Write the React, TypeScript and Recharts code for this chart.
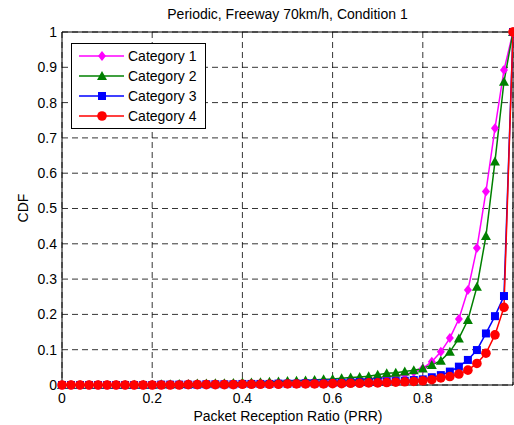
import {
  LineChart,
  Line,
  XAxis,
  YAxis,
  CartesianGrid,
  Legend,
  ReferenceLine,
} from 'recharts';

// PRR sample points, 0 to 1 in steps of 0.02
const prr = Array.from({ length: 51 }, (_, i) => Math.round(i * 2) / 100);

const cat1 = [
  0, 0, 0, 0, 0, 0, 0, 0, 0, 0, 0.001,
  0.001, 0.001, 0.001, 0.002, 0.002, 0.002, 0.002, 0.003, 0.003, 0.003,
  0.004, 0.004, 0.005, 0.005, 0.006, 0.007, 0.008, 0.009, 0.01, 0.011,
  0.012, 0.014, 0.016, 0.018, 0.02, 0.023, 0.026, 0.03, 0.036, 0.047,
  0.066, 0.094, 0.133, 0.187, 0.269, 0.388, 0.548, 0.727, 0.892, 1.0,
];
const cat2 = [
  0, 0, 0, 0, 0, 0, 0, 0, 0.001, 0.001, 0.001,
  0.002, 0.002, 0.003, 0.003, 0.004, 0.004, 0.005, 0.005, 0.006, 0.007,
  0.007, 0.008, 0.009, 0.01, 0.011, 0.012, 0.013, 0.014, 0.016, 0.017,
  0.019, 0.021, 0.023, 0.025, 0.029, 0.033, 0.035, 0.038, 0.042, 0.047,
  0.057, 0.069, 0.094, 0.132, 0.184, 0.278, 0.422, 0.633, 0.859, 1.0,
];
const cat3 = [
  0, 0, 0, 0, 0, 0, 0, 0, 0, 0, 0,
  0.001, 0.001, 0.001, 0.001, 0.001, 0.002, 0.002, 0.002, 0.002, 0.003,
  0.003, 0.003, 0.003, 0.004, 0.004, 0.004, 0.005, 0.005, 0.005, 0.006,
  0.006, 0.007, 0.008, 0.008, 0.009, 0.01, 0.011, 0.012, 0.014, 0.016,
  0.022, 0.028, 0.038, 0.052, 0.071, 0.099, 0.146, 0.195, 0.252, 1.0,
];
const cat4 = [
  0, 0, 0, 0, 0, 0, 0, 0, 0, 0, 0,
  0, 0, 0, 0.001, 0.001, 0.001, 0.001, 0.001, 0.001, 0.002,
  0.002, 0.002, 0.002, 0.002, 0.003, 0.003, 0.003, 0.003, 0.003, 0.004,
  0.004, 0.005, 0.005, 0.006, 0.006, 0.007, 0.008, 0.009, 0.01, 0.012,
  0.015, 0.02, 0.024, 0.031, 0.042, 0.061, 0.09, 0.142, 0.22, 1.0,
];

const xTicks = [0, 0.2, 0.4, 0.6, 0.8, 1];
const yTicks = [0, 0.1, 0.2, 0.3, 0.4, 0.5, 0.6, 0.7, 0.8, 0.9, 1];

const data = prr.map((x, i) => ({ x, c1: cat1[i], c2: cat2[i], c3: cat3[i], c4: cat4[i] }));

const FONT = '"Liberation Sans", Arial, sans-serif';

type Shape = 'diamond' | 'triangle' | 'square' | 'circle';

const series: { key: string; name: string; color: string; shape: Shape }[] = [
  { key: 'c1', name: 'Category 1', color: '#ff00ff', shape: 'diamond' },
  { key: 'c2', name: 'Category 2', color: '#008000', shape: 'triangle' },
  { key: 'c3', name: 'Category 3', color: '#0000ff', shape: 'square' },
  { key: 'c4', name: 'Category 4', color: '#ff0000', shape: 'circle' },
];

function marker(shape: Shape, cx: number, cy: number, color: string, key?: string) {
  if (shape === 'diamond')
    return (
      <polygon key={key} points={`${cx},${cy - 5} ${cx + 4},${cy} ${cx},${cy + 5} ${cx - 4},${cy}`} fill={color} />
    );
  if (shape === 'triangle')
    return (
      <polygon key={key} points={`${cx},${cy - 5} ${cx + 5},${cy + 4} ${cx - 5},${cy + 4}`} fill={color} />
    );
  if (shape === 'square') return <rect key={key} x={cx - 4} y={cy - 4} width={8} height={8} fill={color} />;
  return <circle key={key} cx={cx} cy={cy} r={4.8} fill={color} />;
}

function makeDot(shape: Shape, color: string) {
  return (p: any) => {
    if (p.cx == null || p.cy == null) return <g key={`n-${p.index}`} />;
    return marker(shape, p.cx, p.cy, color, `${shape}-${p.index}`);
  };
}

function LegendBox() {
  return (
    <div
      style={{
        border: '1px solid #000',
        background: '#fff',
        width: 133,
        padding: '2px 0',
        fontFamily: FONT,
        fontSize: 14,
        textAlign: 'left',
      }}
    >
      {series.map((s) => (
        <div key={s.key} style={{ display: 'flex', alignItems: 'center', height: 20 }}>
          <svg width={56} height={20} style={{ flex: 'none' }}>
            <line x1={7} y1={10} x2={52} y2={10} stroke={s.color} strokeWidth={1.5} />
            {marker(s.shape, 30, 10, s.color)}
          </svg>
          <span style={{ color: '#000' }}>{s.name}</span>
        </div>
      ))}
    </div>
  );
}

export default function App() {
  return (
    <div style={{ position: 'absolute', left: 0, top: 0, width: 514, height: 425, background: '#fff' }}>
      <div
        style={{
          position: 'absolute',
          left: 62,
          width: 451,
          top: 5,
          textAlign: 'center',
          fontFamily: FONT,
          fontSize: 14,
          lineHeight: '18px',
          color: '#000',
        }}
      >
        Periodic, Freeway 70km/h, Condition 1
      </div>
      <LineChart
        width={514}
        height={425}
        data={data}
        margin={{ top: 32, right: 1, bottom: 0, left: 0 }}
        style={{ fontFamily: FONT }}
      >
        <CartesianGrid stroke="#000" strokeDasharray="6 4" strokeWidth={0.8} />
        <XAxis
          dataKey="x"
          type="number"
          domain={[0, 1]}
          ticks={xTicks}
          tickFormatter={(v: number) => (v === 1 ? '' : String(v))}
          tick={{ fill: '#000', fontSize: 14 }}
          tickLine={false}
          axisLine={{ stroke: '#000' }}
          height={40}
          label={{
            content: () => (
              <text x={288} y={421} textAnchor="middle" fontSize={14} fill="#000" fontFamily={FONT}>
                Packet Reception Ratio (PRR)
              </text>
            ),
          }}
        />
        <YAxis
          type="number"
          domain={[0, 1]}
          ticks={yTicks}
          tickFormatter={(v: number) => String(v)}
          tick={{ fill: '#000', fontSize: 14 }}
          tickLine={false}
          tickSize={3}
          tickMargin={2}
          axisLine={{ stroke: '#000' }}
          width={62}
          label={{
            content: () => (
              <text
                x={28}
                y={208}
                transform="rotate(-90 28 208)"
                textAnchor="middle"
                fontSize={14}
                fill="#000"
                fontFamily={FONT}
              >
                CDF
              </text>
            ),
          }}
        />
        <ReferenceLine y={1} stroke="#000" strokeWidth={1} />
        <ReferenceLine x={1} stroke="#000" strokeWidth={1} />
        <Legend
          layout="vertical"
          align="center"
          verticalAlign="middle"
          content={() => <LegendBox />}
          wrapperStyle={{ position: 'absolute', left: 71, top: 43, width: 135, right: 'auto', bottom: 'auto' }}
        />
        {series.map((s) => (
          <Line
            key={s.key}
            dataKey={s.key}
            name={s.name}
            type="linear"
            stroke={s.color}
            strokeWidth={1.5}
            dot={makeDot(s.shape, s.color)}
            activeDot={false}
            isAnimationActive={false}
          />
        ))}
      </LineChart>
    </div>
  );
}
